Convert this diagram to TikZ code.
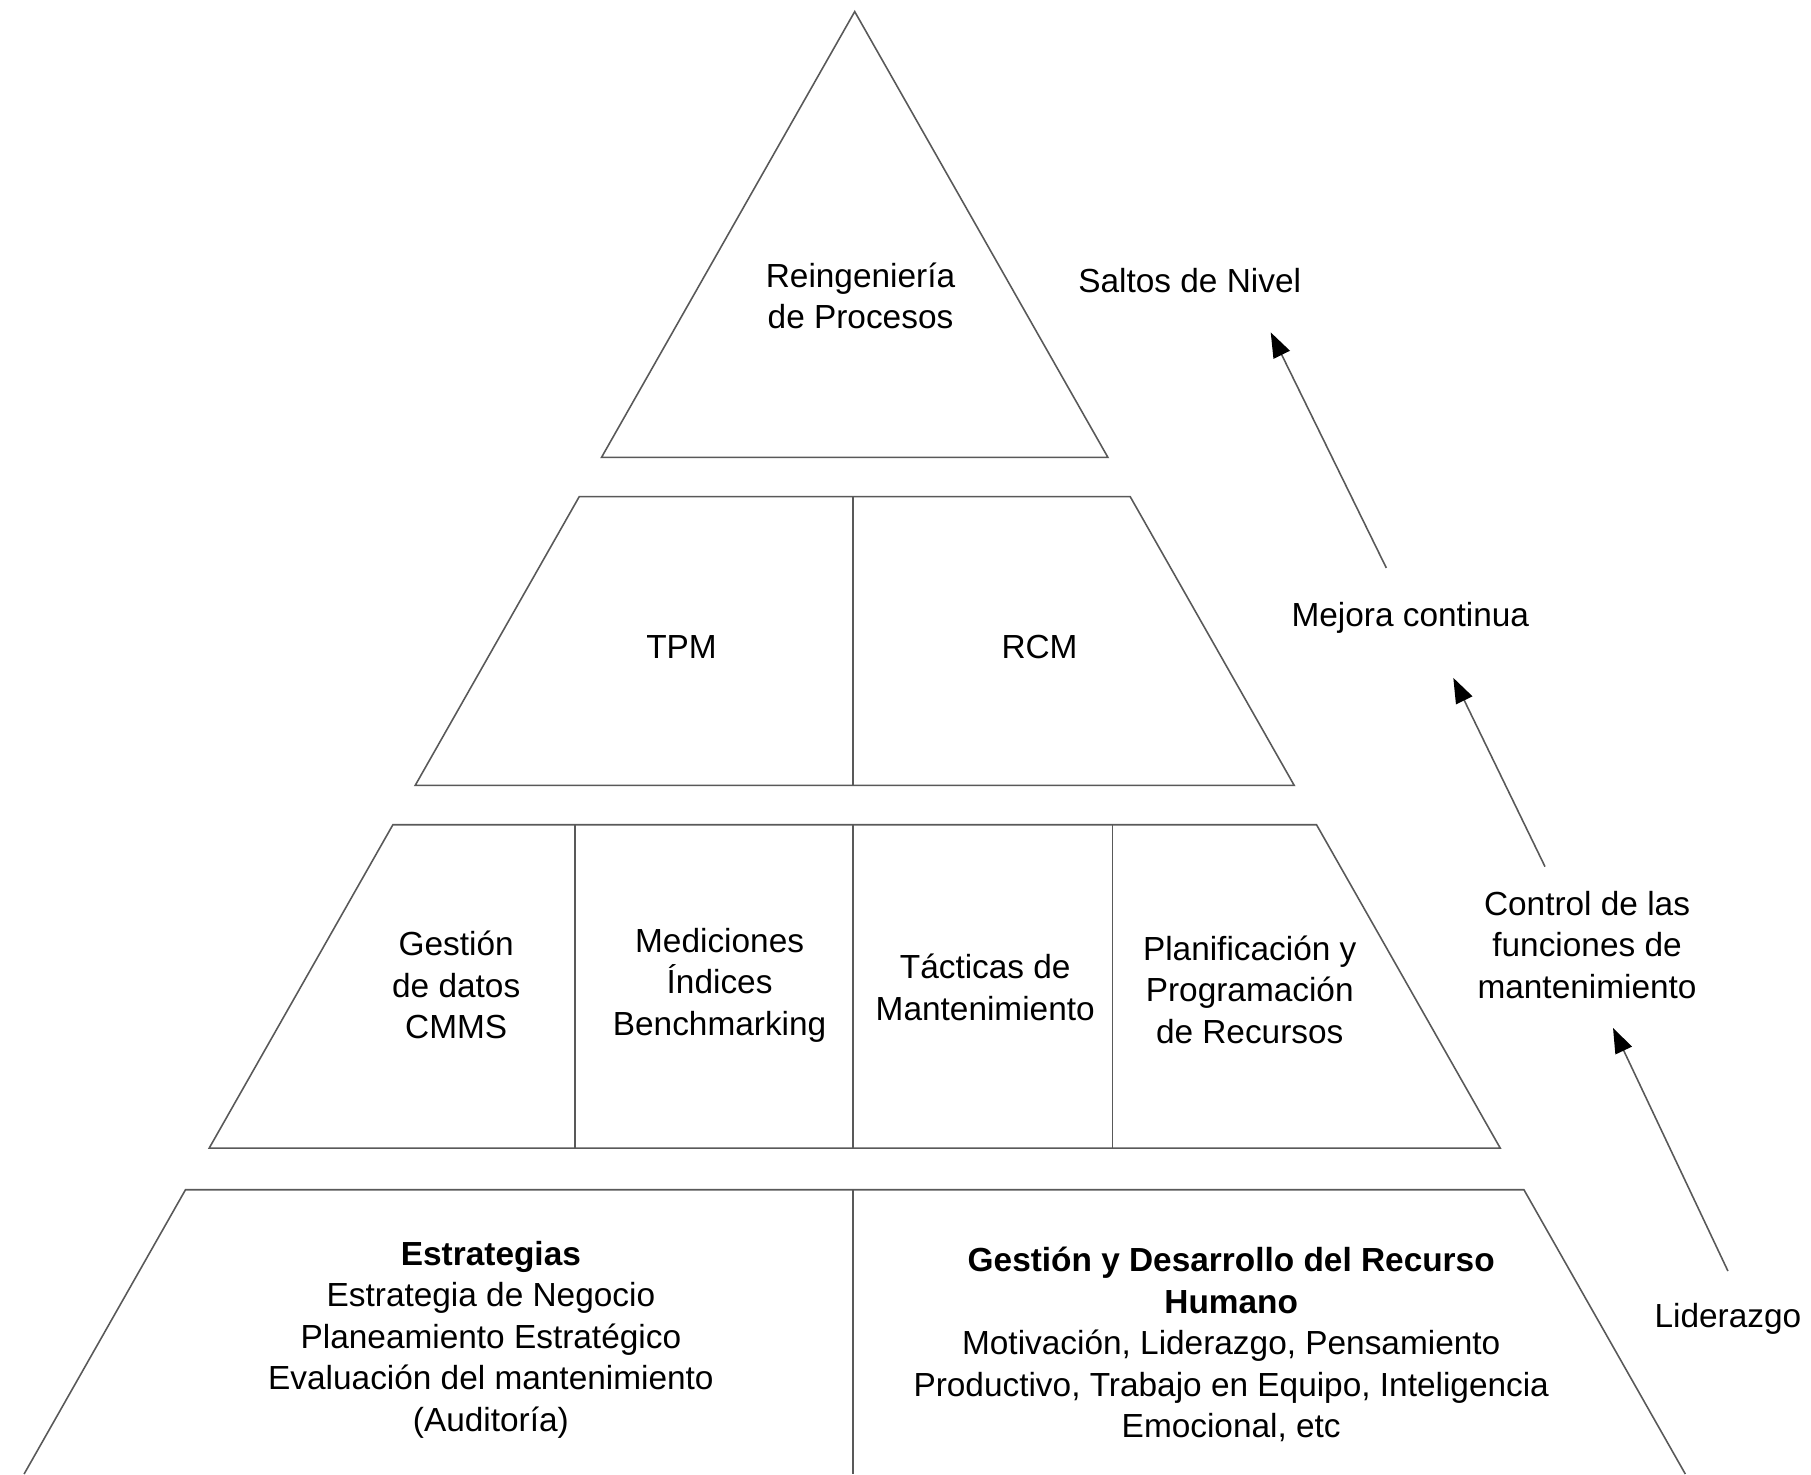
\documentclass[tikz,border=0pt]{standalone}
\usepackage{fontspec}
\setmainfont{Liberation Sans}
\usetikzlibrary{positioning,arrows.meta,calc}

\begin{document}
\begin{tikzpicture}[
    >={Triangle[length=2.5mm, width=1.8mm, color=black]},
    every node/.style={font=\fontsize{9.5}{11.8}\selectfont, align=center},
    layer/.style={draw=black!65, line width=0.45pt},
    upflow/.style={->, draw=black!65, line width=0.45pt}
]
\useasboundingbox (0,0) rectangle (18.11,14.74);

% pyramid levels
\draw[layer] (8.547,14.624) -- (11.079,10.166) -- (6.015,10.166) -- cycle;
\draw[layer] (5.792,9.773) -- (11.302,9.773) -- (12.942,6.886) -- (4.152,6.886) -- cycle;
\draw[layer] (8.53,9.773) -- (8.53,6.886);
\draw[layer] (3.929,6.493) -- (13.165,6.493) -- (15.002,3.259) -- (2.092,3.259) -- cycle;
\foreach \x in {5.752, 8.53, 11.123}
    \draw[layer] (\x,6.493) -- (\x,3.259);
\draw[layer] (0.241,0) -- (1.855,2.843) -- (15.239,2.843) -- (16.853,0);
\draw[layer] (8.53,2.843) -- (8.53,0);

% texts inside the pyramid
\node (reing) at (8.605,11.783) {Reingeniería\\de Procesos};
\node (tpm) at (6.815,8.272) {TPM};
\node (rcm) at (10.395,8.272) {RCM};
\node (cmms) at (4.562,4.888) {Gestión\\de datos\\CMMS};
\node (medic) at (7.196,4.888) {Mediciones\\Índices\\Benchmarking};
\node (tact) at (9.852,4.865) {Tácticas de\\Mantenimiento};
\node (plan) at (12.497,4.842) {Planificación y\\Programación\\de Recursos};
\node (estr) at (4.909,1.342) {\textbf{Estrategias}\\Estrategia de Negocio\\Planeamiento Estratégico\\Evaluación del mantenimiento\\(Auditoría)};
\node (rrhh) at (12.312,1.296) {\textbf{Gestión y Desarrollo del Recurso}\\\textbf{Humano}\\Motivación, Liderazgo, Pensamiento\\Productivo, Trabajo en Equipo, Inteligencia\\Emocional, etc};

% side labels
\node (saltos) at (11.897,11.933) {Saltos de Nivel};
\node (mejora) at (14.103,8.561) {Mejora continua};
\node (ctrl) at (15.87,5.292) {Control de las\\funciones de\\mantenimiento};
\node (lider) at (17.279,1.55) {Liderazgo};

\draw[upflow] ([yshift=2mm]lider.north) -- ([xshift=2.6mm,yshift=-1.7mm]ctrl.south);
\draw[upflow] ([xshift=-4.2mm,yshift=1.2mm]ctrl.north) -- ([xshift=4.3mm,yshift=-3.2mm]mejora.south);
\draw[upflow] ([xshift=-2.4mm,yshift=2.2mm]mejora.north) -- ([xshift=8.1mm,yshift=-2.7mm]saltos.south);

\end{tikzpicture}
\end{document}
